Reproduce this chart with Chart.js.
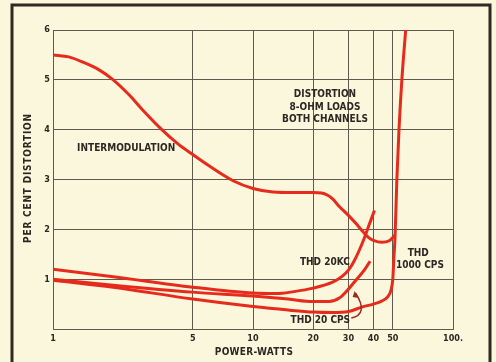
<!DOCTYPE html>
<html lang="en">
<head>
  <meta charset="UTF-8" />
  <title>Distortion vs Power</title>
  <script src="https://cdn.jsdelivr.net/npm/chart.js"></script>
  <style>
    html, body { margin: 0; padding: 0; background: #fbf7dc; }
    canvas { display: block; }
  </style>
</head>
<body>
<canvas id="chart" width="496" height="362"></canvas>
<script>
  // axis ticks
  const xTicks = [1, 5, 10, 20, 30, 40, 50, 100];
  const xTickLabels = ['1', '5', '10', '20', '30', '40', '50', '100.'];
  const yTickLabels = ['', '1', '2', '3', '4', '5', '6'];

  // intermodulation, 8-ohm loads, both channels
  const imWatts = [1, 1.2, 1.4, 1.7, 2, 2.4, 2.8, 3.5, 4.2, 5, 6, 8, 10, 12.6, 16, 20, 22, 23.5, 25, 27, 30, 33, 35.5, 38, 40, 44, 48, 51.3];
  const imPct   = [5.5, 5.46, 5.36, 5.2, 5.0, 4.7, 4.4, 4.0, 3.72, 3.5, 3.28, 2.97, 2.82, 2.75, 2.74, 2.74, 2.73, 2.69, 2.61, 2.46, 2.28, 2.1, 1.95, 1.83, 1.78, 1.74, 1.77, 1.88];

  // THD at 20 kc
  const thd20kWatts = [1, 2, 5, 10, 13, 16, 20, 25, 28, 30, 32, 34, 36, 38, 40.5];
  const thd20kPct   = [1.2, 1.05, 0.84, 0.72, 0.71, 0.75, 0.82, 0.94, 1.06, 1.18, 1.36, 1.58, 1.82, 2.08, 2.38];

  // THD at 20 cps
  const thd20Watts = [1, 2, 5, 10, 15, 20, 24, 27, 30, 33, 36, 38.5];
  const thd20Pct   = [1.0, 0.88, 0.74, 0.66, 0.6, 0.55, 0.55, 0.62, 0.8, 1.0, 1.18, 1.36];

  // THD at 1000 cps
  const thd1kWatts = [1, 2, 5, 10, 15, 20, 25, 30, 35, 40, 44, 47, 49, 50, 50.6, 51.3, 52.4, 53.7, 55.5, 58];
  const thd1kPct   = [0.98, 0.84, 0.6, 0.45, 0.38, 0.34, 0.33, 0.35, 0.44, 0.5, 0.56, 0.64, 0.78, 1.0, 1.4, 1.84, 3.0, 4.0, 5.0, 6.0];

  const FONT = "'DejaVu Sans Condensed', 'DejaVu Sans', sans-serif";
  const INK = '#2b2722';
  const RED = '#e62a1c';

  function pts(xs, ys) {
    return xs.map((x, i) => ({ x: x, y: ys[i] }));
  }

  function line(data) {
    return {
      data: data,
      borderColor: RED,
      borderWidth: 3,
      pointRadius: 0,
      fill: false,
      cubicInterpolationMode: 'monotone'
    };
  }

  // texts placed at data positions
  const notes = [
    { text: 'INTERMODULATION', x: 1.32, y: 3.62, align: 'left' },
    { text: 'DISTORTION', x: 22.9, y: 4.7, align: 'center' },
    { text: '8-OHM LOADS', x: 22.9, y: 4.44, align: 'center' },
    { text: 'BOTH CHANNELS', x: 22.9, y: 4.2, align: 'center' },
    { text: 'THD 20KC', x: 30.5, y: 1.34, align: 'right' },
    { text: 'THD', x: 67, y: 1.52, align: 'center' },
    { text: '1000 CPS', x: 68.4, y: 1.28, align: 'center' },
    { text: 'THD 20 CPS', x: 21.7, y: 0.18, align: 'center' }
  ];

  const decor = {
    id: 'decor',
    beforeDraw(chart) {
      const ctx = chart.ctx;
      ctx.save();
      ctx.fillStyle = '#fbf7dc';
      ctx.fillRect(0, 0, chart.width, chart.height);
      ctx.restore();
    },
    afterDraw(chart) {
      const ctx = chart.ctx;
      const xs = chart.scales.x, ys = chart.scales.y;
      ctx.save();

      // outer frame
      ctx.strokeStyle = '#2d2a24';
      ctx.lineWidth = 3;
      ctx.beginPath();
      ctx.moveTo(12, 370);
      ctx.lineTo(12, 5);
      ctx.lineTo(490, 5);
      ctx.lineTo(490, 370);
      ctx.stroke();

      ctx.fillStyle = INK;
      ctx.font = 'bold 10px ' + FONT;
      ctx.letterSpacing = '0px';
      ctx.textBaseline = 'middle';
      notes.forEach(n => {
        ctx.textAlign = n.align;
        ctx.fillText(n.text, xs.getPixelForValue(n.x), ys.getPixelForValue(n.y));
      });

      // axis titles
      ctx.textAlign = 'center';
      ctx.letterSpacing = '0.3px';
      ctx.fillText('POWER-WATTS', 254, 352);
      ctx.save();
      ctx.letterSpacing = '0.8px';
      ctx.translate(28, 178);
      ctx.rotate(-Math.PI / 2);
      ctx.fillText('PER CENT DISTORTION', 0, 0);
      ctx.restore();

      // leader from THD 20 CPS label to its curve
      const p0 = [xs.getPixelForValue(31), ys.getPixelForValue(0.22)];
      const c = [xs.getPixelForValue(38), ys.getPixelForValue(0.3)];
      const p1 = [xs.getPixelForValue(32.6), ys.getPixelForValue(0.72)];
      ctx.strokeStyle = '#9a2a1e';
      ctx.lineWidth = 1.5;
      ctx.beginPath();
      ctx.moveTo(p0[0], p0[1]);
      ctx.quadraticCurveTo(c[0], c[1], p1[0], p1[1]);
      ctx.stroke();
      ctx.fillStyle = '#9a2a1e';
      ctx.beginPath();
      ctx.moveTo(p1[0] - 1, p1[1] - 2);
      ctx.lineTo(p1[0] + 3, p1[1] + 5);
      ctx.lineTo(p1[0] - 3, p1[1] + 4);
      ctx.closePath();
      ctx.fill();

      ctx.restore();
    }
  };

  new Chart(document.getElementById('chart'), {
    type: 'line',
    data: {
      datasets: [
        line(pts(imWatts, imPct)),
        line(pts(thd20kWatts, thd20kPct)),
        line(pts(thd20Watts, thd20Pct)),
        line(pts(thd1kWatts, thd1kPct))
      ]
    },
    options: {
      responsive: false,
      animation: false,
      layout: { padding: { left: 0, right: 43, top: 30, bottom: 0 } },
      plugins: { legend: { display: false }, tooltip: { enabled: false } },
      scales: {
        x: {
          type: 'logarithmic',
          min: 1,
          max: 100,
          afterBuildTicks: s => { s.ticks = xTicks.map(v => ({ value: v })); },
          afterFit: s => { s.height = 33; },
          grid: { color: '#5f5a4e', lineWidth: 1, drawTicks: false },
          border: { color: '#5f5a4e', width: 1 },
          ticks: {
            autoSkip: false,
            maxRotation: 0,
            padding: 4,
            color: INK,
            font: { family: FONT, size: 9, weight: 'bold' },
            callback: (v, i) => xTickLabels[i]
          }
        },
        y: {
          min: 0,
          max: 6,
          afterFit: s => { s.width = 53; },
          grid: { color: '#5f5a4e', lineWidth: 1, drawTicks: false },
          border: { color: '#5f5a4e', width: 1 },
          ticks: {
            stepSize: 1,
            padding: 3,
            color: INK,
            font: { family: FONT, size: 9, weight: 'bold' },
            callback: v => yTickLabels[v]
          }
        }
      }
    },
    plugins: [decor]
  });
</script>
</body>
</html>
